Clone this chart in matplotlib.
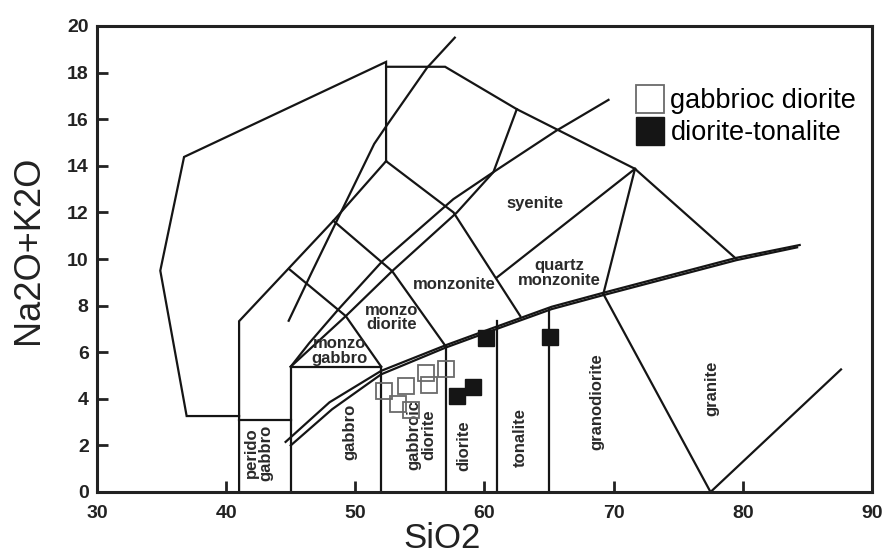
import matplotlib
matplotlib.use("Agg")
import matplotlib.pyplot as plt
from matplotlib.lines import Line2D

plt.rcParams["font.family"] = ["Liberation Sans", "DejaVu Sans"]

# ===============================
# Field boundaries (SiO2, Na2O+K2O)
# ===============================
outer_poly = [(41.0, 3.26), (36.94, 3.26), (34.9, 9.5), (36.74, 14.38), (52.38, 18.46), (52.38, 14.2)]
foid_line = [(41.0, 0.0), (41.0, 7.33), (48.3, 11.64), (52.38, 14.2)]
top_line = [(52.38, 18.25), (56.95, 18.25), (62.5, 16.43), (71.65, 13.87), (79.5, 10.0)]
steep_line = [(44.84, 7.35), (46.6, 9.4), (51.46, 14.94), (52.33, 15.65), (55.54, 18.2), (57.7, 19.5)]
upper_line = [(45.0, 5.38), (46.43, 6.39), (48.69, 7.84), (52.08, 9.9), (57.59, 12.57),
              (60.69, 13.73), (65.54, 15.5), (69.6, 16.83)]
lower_line = [(45.0, 5.38), (49.26, 7.55), (52.85, 9.48), (57.85, 11.99), (60.69, 13.73), (62.5, 16.43)]
syenite_line = [(52.38, 14.2), (57.6, 12.0), (62.77, 7.55)]
monzonite_line = [(48.3, 11.64), (52.85, 9.48), (57.0, 6.25)]
monzodiorite_line = [(44.87, 9.57), (49.26, 7.55), (52.0, 5.38)]
qmonz_left = [(71.65, 13.87), (60.94, 9.2)]
qmonz_right = [(71.65, 13.87), (69.2, 8.5)]
granite_left = [(69.2, 8.5), (77.5, 0.0)]
granite_right = [(77.5, 0.0), (87.6, 5.26)]
perido_top = [(41.0, 3.1), (45.0, 3.1)]
gabbro_top = [(45.0, 5.38), (52.0, 5.38)]
verticals = [(45.0, 5.38), (52.0, 5.38), (57.0, 6.25), (61.0, 7.33), (65.0, 7.85)]

# alkaline / subalkaline double line
alk_a = [(44.6, 2.15), (48.0, 3.85), (52.0, 5.2), (57.0, 6.3), (60.7, 7.05), (65.2, 7.95),
         (69.2, 8.55), (79.5, 10.05), (84.4, 10.6)]
alk_b = [(45.0, 2.0), (48.2, 3.55), (52.0, 5.05), (57.0, 6.2), (60.7, 6.95), (65.2, 7.85),
         (69.2, 8.45), (79.5, 9.95), (84.2, 10.5)]

# ===============================
# Samples
# ===============================
gab_sio2 = [52.25, 53.29, 54.32, 53.96, 55.44, 55.73, 57.0]
gab_alk = [4.34, 3.76, 3.54, 4.57, 5.09, 4.61, 5.30]
dio_sio2 = [60.08, 65.1, 57.9, 59.1]
dio_alk = [6.61, 6.65, 4.10, 4.51]

# field names: text, x, y, rotation
field_labels = [
    ("perido\ngabbro", 42.5, 1.67, 90),
    ("gabbro", 49.6, 2.6, 90),
    ("gabbroic\ndiorite", 55.1, 2.45, 90),
    ("diorite", 58.4, 2.0, 90),
    ("tonalite", 62.8, 2.35, 90),
    ("granodiorite", 68.7, 3.9, 90),
    ("granite", 77.6, 4.45, 90),
    ("monzo\ngabbro", 48.8, 6.05, 0),
    ("monzo\ndiorite", 52.8, 7.5, 0),
    ("monzonite", 57.7, 8.9, 0),
    ("quartz\nmonzonite", 65.8, 9.4, 0),
    ("syenite", 63.9, 12.4, 0),
]

# ===============================
# Plot
# ===============================
fig = plt.figure(figsize=(8.87, 5.56), dpi=100)
ax = fig.add_axes([97 / 887, 64 / 556, 775 / 887, 466 / 556])

lc = "#151515"
lw = 1.6
for seg in [outer_poly, foid_line, top_line, steep_line, upper_line, lower_line, syenite_line,
            monzonite_line, monzodiorite_line, qmonz_left, qmonz_right, granite_left,
            granite_right, perido_top, gabbro_top, alk_a, alk_b]:
    xs, ys = zip(*seg)
    ax.plot(xs, ys, color=lc, lw=lw, solid_joinstyle="miter", zorder=2)
for vx, vtop in verticals:
    ax.plot([vx, vx], [0, vtop], color=lc, lw=lw, zorder=2)

for txt, tx, ty, rot in field_labels:
    ax.text(tx, ty, txt, rotation=rot, ha="center", va="center", fontsize=12,
            fontweight="bold", color="#2a2a2a", linespacing=0.95, zorder=3)

ax.plot(gab_sio2, gab_alk, "s", ms=12, mfc="none", mec="#6a6a6a", mew=1.3, zorder=4)
ax.plot(dio_sio2, dio_alk, "s", ms=12, mfc="#151515", mec="#151515", mew=1.0, zorder=4)

handles = [
    Line2D([], [], marker="s", ls="none", ms=20, mfc="white", mec="#6a6a6a", mew=1.3),
    Line2D([], [], marker="s", ls="none", ms=20, mfc="#151515", mec="#151515"),
]
ax.legend(handles, ["gabbrioc diorite", "diorite-tonalite"], loc="upper left",
          bbox_to_anchor=(0.698, 0.866), frameon=False, fontsize=19.5, handlelength=0.9,
          handletextpad=0.3, labelspacing=0.22, borderpad=0, borderaxespad=0)

ax.set_xlim(30, 90)
ax.set_ylim(0, 20)
ax.set_xticks(range(30, 91, 10))
ax.set_yticks(range(0, 21, 2))
ax.tick_params(direction="in", length=8, width=2, top=False, right=False,
               labelsize=14, colors="#222222")
ax.tick_params(axis="x", pad=9)
ax.tick_params(axis="y", pad=6)
plt.setp(ax.get_xticklabels() + ax.get_yticklabels(), fontweight="bold")
for sp in ax.spines.values():
    sp.set_linewidth(2.2)
    sp.set_color("#222222")

ax.set_xlabel("SiO2", fontsize=25, color="#222222")
ax.set_ylabel("Na2O+K2O", fontsize=26, color="#222222")
ax.xaxis.set_label_coords(0.445, -0.12)
ax.xaxis.label.set_va("baseline")
ax.yaxis.set_label_coords(-0.089, 0.52)
ax.yaxis.label.set_va("center")

fig.savefig("out.png", dpi=100)
